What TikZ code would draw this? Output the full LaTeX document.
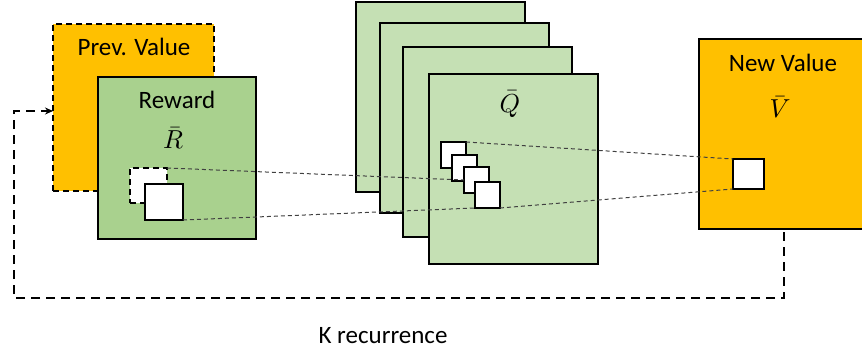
\documentclass[tikz,border=0pt]{standalone}
\usepackage{fontspec}
\setmainfont{Carlito}
\usetikzlibrary{arrows.meta}
\definecolor{gold}{HTML}{FFC000}
\definecolor{rgreen}{HTML}{A9D18E}
\definecolor{qgreen}{HTML}{C5E0B4}
\newcommand{\bigsym}[1]{\scalebox{2.6}{$#1$}}
\begin{document}
\begin{tikzpicture}[x=1pt,y=-1pt,
  panel/.style={draw=black, line width=1.6pt, inner sep=0pt, outer sep=0pt, anchor=north west},
  cell/.style={draw=black, fill=white, line width=1.6pt, inner sep=0pt, outer sep=0pt, anchor=north west},
  lbl/.style={font=\fontsize{25}{28}\selectfont, inner sep=0pt},
  sym/.style={inner sep=0pt},
  link/.style={draw=black!75, line width=1pt, dash pattern=on 4pt off 3pt},
  loopline/.style={draw=black, line width=2pt, dash pattern=on 9pt off 6pt}]
\useasboundingbox (0,0) rectangle (862,354);
% previous value and reward
\node[panel, fill=gold, dash pattern=on 6pt off 4pt, minimum width=161pt, minimum height=167pt] (pv) at (53,24) {};
\node[lbl] (pvt) at (134,47) {Prev. Value};
\node[panel, fill=rgreen, minimum width=158pt, minimum height=162pt] (rw) at (98,77) {};
\node[lbl] (rwt) at (177,100) {Reward};
\node[sym] (rsym) at (173,138) {\bigsym{\bar{R}}};
\node[cell, dash pattern=on 6pt off 4pt, minimum width=37pt, minimum height=35pt] (rd) at (130,168) {};
\node[cell, minimum width=38pt, minimum height=36pt] (rs) at (145,184) {};
% Q stack
\node[panel, fill=qgreen, minimum width=169pt, minimum height=190pt] (qa) at (356,2) {};
\node[panel, fill=qgreen, minimum width=169pt, minimum height=190pt] (qb) at (380,23) {};
\node[panel, fill=qgreen, minimum width=169pt, minimum height=190pt] (qc) at (403,47) {};
\node[panel, fill=qgreen, minimum width=169pt, minimum height=190pt] (qd) at (429,74) {};
\node[sym] (qsym) at (510,104) {\bigsym{\bar{Q}}};
\node[cell, minimum width=25pt, minimum height=26pt] (q1) at (441,142) {};
\node[cell, minimum width=25pt, minimum height=26pt] (q2) at (452,155) {};
\node[cell, minimum width=25pt, minimum height=26pt] (q3) at (464,167) {};
\node[cell, minimum width=25pt, minimum height=26pt] (q4) at (475,182) {};
% new value
\node[panel, fill=gold, minimum width=165pt, minimum height=190pt] (nv) at (699,39) {};
\node[lbl] (nvt) at (783,63) {New Value};
\node[sym] (vsym) at (780,107) {\bigsym{\bar{V}}};
\node[cell, minimum width=31pt, minimum height=30pt] (vs) at (733,159) {};
% links
\draw[link] (rd.north east) -- (q3.west);
\draw[link] (rs.south east) -- (q4.south west);
\draw[link] (q1.north east) -- (vs.north west);
\draw[link] (q4.south east) -- (vs.south west);
% recurrence loop
\coordinate (ls) at (784,232);
\coordinate (lc) at (14,298);
\coordinate (la) at (53,111);
\draw[loopline, -{Stealth[length=8pt,width=7pt]}] (ls) |- (lc) |- (la);
\node[lbl] (kt) at (383,336) {K recurrence};
\end{tikzpicture}
\end{document}
